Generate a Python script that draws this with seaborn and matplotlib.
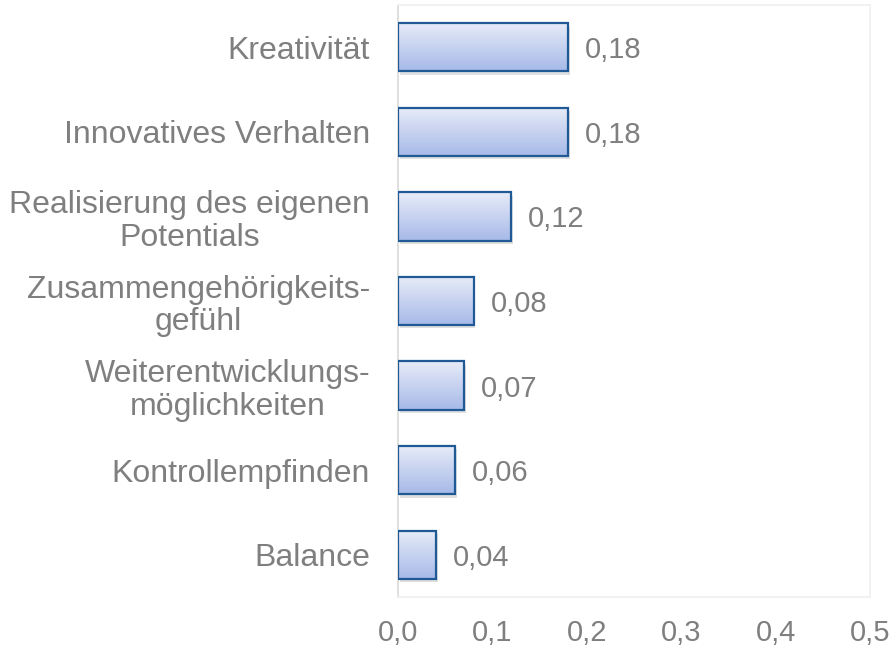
import matplotlib
matplotlib.use("Agg")
import matplotlib.pyplot as plt
import seaborn as sns
import numpy as np
import pandas as pd
from matplotlib.colors import LinearSegmentedColormap

categories = ["Kreativität", "Innovatives Verhalten", "Realisierung des eigenen\nPotentials",
              "Zusammengehörigkeits-\ngefühl", "Weiterentwicklungs-\nmöglichkeiten",
              "Kontrollempfinden", "Balance"]
values = [0.18, 0.18, 0.12, 0.08, 0.07, 0.06, 0.04]
value_labels = ["0,18", "0,18", "0,12", "0,08", "0,07", "0,06", "0,04"]
xticks = [0.0, 0.1, 0.2, 0.3, 0.4, 0.5]
xtick_labels = ["0,0", "0,1", "0,2", "0,3", "0,4", "0,5"]

sns.set_theme(style="white")
plt.rcParams['font.family'] = ['Liberation Sans', 'DejaVu Sans']

FS = 23
df = pd.DataFrame({"cat": categories, "val": values})

fig = plt.figure(figsize=(8.92, 6.47), dpi=100)
ax = fig.add_axes([398/892, 1-597/647, (870-398)/892, (597-5)/647])

sns.barplot(data=df, x="val", y="cat", orient="h", ax=ax, width=0.57,
            color="#c5d0f0", edgecolor="#1f5a96", linewidth=1.6, zorder=3)

cmap = LinearSegmentedColormap.from_list("g", ["#e8ecf8", "#a6b9e8"])
grad = np.linspace(0, 1, 256).reshape(-1, 1)
for p in ax.patches:
    x0, y0 = p.get_x(), p.get_y()
    w, h = p.get_width(), p.get_height()
    sh = plt.Rectangle((x0 + 0.002, y0 + 0.04), w, h, facecolor="#000000", alpha=0.12,
                       edgecolor="none", zorder=2)
    ax.add_patch(sh)
    im = ax.imshow(grad, extent=[x0, x0 + w, y0 + h, y0], cmap=cmap, aspect="auto",
                   zorder=3.5)
    im.set_clip_path(p)
    p.set_facecolor("none")
    p.set_zorder(4)

for i, (v, lab) in enumerate(zip(values, value_labels)):
    ax.text(v + 0.018, i, lab, va="center_baseline", ha="left", fontsize=21,
            color="#7f7f7f")

ax.set_xlim(0, 0.5)
ax.set_ylim(len(categories) - 0.5, -0.5)
ax.set_xticks(xticks)
ax.set_xticklabels(xtick_labels)
ax.set_xlabel("")
ax.set_ylabel("")
ax.tick_params(axis="x", length=0, pad=16, labelsize=21, labelcolor="#7f7f7f")
ax.tick_params(axis="y", length=0, pad=20, labelsize=FS, labelcolor="#7f7f7f")
for t in ax.get_yticklabels():
    t.set_multialignment("center")
    t.set_linespacing(1.12)

for s in ["top", "right", "bottom"]:
    ax.spines[s].set_color("#f0f0f0")
    ax.spines[s].set_linewidth(1.2)
ax.spines["left"].set_color("#d9d9d9")
ax.spines["left"].set_linewidth(1.2)
ax.grid(False)

fig.savefig("out.png", dpi=100)
